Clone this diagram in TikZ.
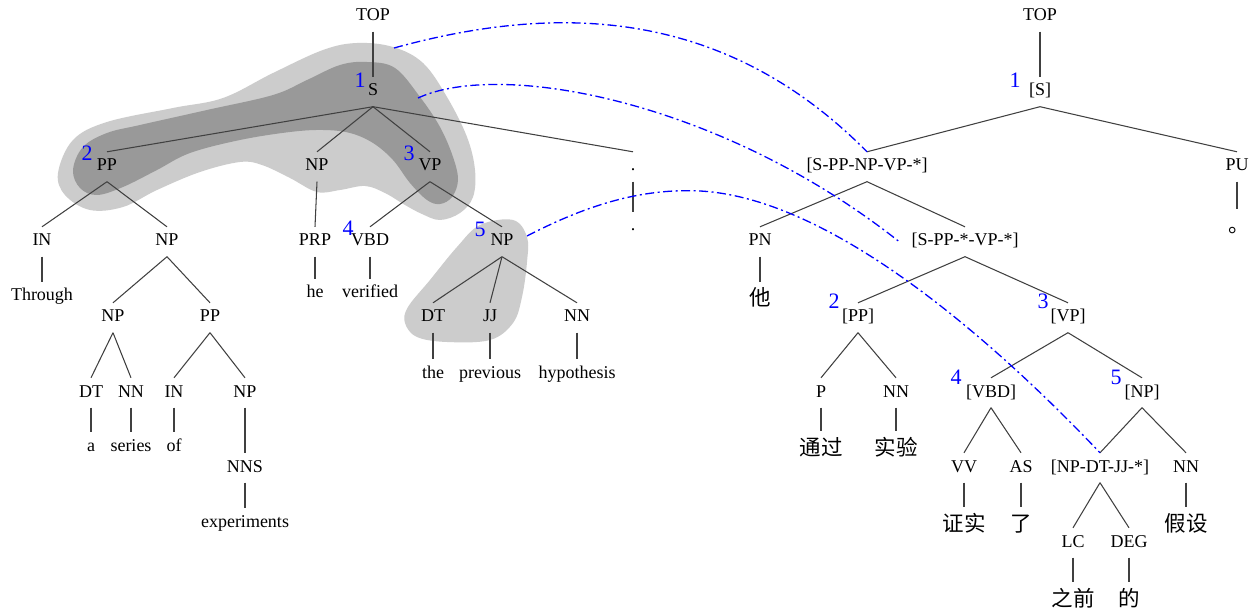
\documentclass[tikz,border=0pt]{standalone}
\usepackage{fontspec}
\setmainfont{Liberation Serif}
\newfontfamily\cjk{Noto Sans CJK SC}
\begin{document}
\begin{tikzpicture}[x=1pt,y=-1pt,
  lab/.style={font=\fontsize{18}{20}\selectfont, inner xsep=2pt, inner ysep=6.5pt, text height=12.5pt, text depth=4pt, anchor=base},
  zh/.style={lab, font=\cjk\fontsize{21.5}{23}\selectfont, text height=17pt},
  num/.style={text=blue, font=\fontsize{22}{24}\selectfont, inner sep=0pt},
  tline/.style={draw=black!75, line width=1.05pt},
  alignline/.style={draw=blue, line width=1.3pt, dash pattern=on 9pt off 3.5pt on 2pt off 3.5pt},
  lightblob/.style={fill=black!20},
  darkblob/.style={fill=black!40}]
\fill[white] (0,0) rectangle (1255,609);
\useasboundingbox (0,0) rectangle (1255,609);

% ---------- highlight blobs ----------
\fill[lightblob] plot[smooth cycle, tension=0.6] coordinates {
 (58,173) (73,140) (107,122) (173,108) (223,98) (273,73) (323,50) (357,43) (393,47)
 (423,63) (447,97) (467,137) (475,170) (473,197) (460,213) (440,220) (422,214)
 (405,205) (385,193) (365,186) (340,190) (317,192) (290,178) (262,165) (240,162)
 (200,172) (157,190) (123,207) (90,210) (65,195)};
\fill[darkblob] plot[smooth cycle, tension=0.6] coordinates {
 (73,170) (83,147) (107,133) (140,125) (207,110) (273,95) (307,80) (340,65) (367,62)
 (395,68) (420,97) (440,127) (453,157) (458,180) (452,197) (440,204) (427,200)
 (410,183) (393,160) (373,143) (350,133) (323,130) (290,132) (240,140) (190,153)
 (157,170) (123,187) (97,195) (80,188)};
\fill[lightblob] plot[smooth cycle, tension=0.6] coordinates {
 (513,220) (527,237) (527,262) (522,297) (513,323) (490,340) (447,342) (417,337)
 (405,323) (408,307) (430,280) (457,247) (480,225)};

% ---------- English tree ----------
\node[lab] (lTOP) at (373,21) {TOP};
\node[lab] (lS) at (373,96) {S};
\node[lab] (lPP) at (107,171) {PP};
\node[lab] (lNP) at (317,171) {NP};
\node[lab] (lVP) at (430,171) {VP};
\node[lab] (lPU) at (633,171) {.};
\node[lab] (lPUw) at (633,231) {.};
\node[lab] (lIN) at (42,246) {IN};
\node[lab] (lThrough) at (42,301) {Through};
\node[lab] (lNPb) at (167,246) {NP};
\node[lab] (lPRP) at (315,246) {PRP};
\node[lab] (lhe) at (315,298) {he};
\node[lab] (lVBD) at (370,246) {VBD};
\node[lab] (lverified) at (370,298) {verified};
\node[lab] (lNPc) at (502,246) {NP};
\node[lab] (lNPd) at (113,322) {NP};
\node[lab] (lPPb) at (210,322) {PP};
\node[lab] (lDT) at (91,397) {DT};
\node[lab] (la) at (91,451) {a};
\node[lab] (lNN) at (131,397) {NN};
\node[lab] (lseries) at (131,451) {series};
\node[lab] (lINb) at (174,397) {IN};
\node[lab] (lof) at (174,451) {of};
\node[lab] (lNPe) at (245,397) {NP};
\node[lab] (lNNS) at (245,472) {NNS};
\node[lab] (lexp) at (245,527) {experiments};
\node[lab] (lDTb) at (433,322) {DT};
\node[lab] (lthe) at (433,378) {the};
\node[lab] (lJJ) at (490,322) {JJ};
\node[lab] (lprev) at (490,378) {previous};
\node[lab] (lNNb) at (577,322) {NN};
\node[lab] (lhyp) at (577,378) {hypothesis};

\draw[tline] (lTOP.south) -- (lS.north);
\draw[tline] (lS.south) -- (lPP.north);
\draw[tline] (lS.south) -- (lNP.north);
\draw[tline] (lS.south) -- (lVP.north);
\draw[tline] (lS.south) -- (lPU.north);
\draw[tline] (lPU.south) -- (lPUw.north);
\draw[tline] (lPP.south) -- (lIN.north);
\draw[tline] (lPP.south) -- (lNPb.north);
\draw[tline] (lIN.south) -- (lThrough.north);
\draw[tline] (lNPb.south) -- (lNPd.north);
\draw[tline] (lNPb.south) -- (lPPb.north);
\draw[tline] (lNPd.south) -- (lDT.north);
\draw[tline] (lNPd.south) -- (lNN.north);
\draw[tline] (lDT.south) -- (la.north);
\draw[tline] (lNN.south) -- (lseries.north);
\draw[tline] (lPPb.south) -- (lINb.north);
\draw[tline] (lPPb.south) -- (lNPe.north);
\draw[tline] (lINb.south) -- (lof.north);
\draw[tline] (lNPe.south) -- (lNNS.north);
\draw[tline] (lNNS.south) -- (lexp.north);
\draw[tline] (lNP.south) -- (lPRP.north);
\draw[tline] (lPRP.south) -- (lhe.north);
\draw[tline] (lVP.south) -- (lVBD.north);
\draw[tline] (lVP.south) -- (lNPc.north);
\draw[tline] (lVBD.south) -- (lverified.north);
\draw[tline] (lNPc.south) -- (lDTb.north);
\draw[tline] (lNPc.south) -- (lJJ.north);
\draw[tline] (lNPc.south) -- (lNNb.north);
\draw[tline] (lDTb.south) -- (lthe.north);
\draw[tline] (lJJ.south) -- (lprev.north);
\draw[tline] (lNNb.south) -- (lhyp.north);

\node[num] (lb1) at (360,80) {1};
\node[num] (lb2) at (87,153) {2};
\node[num] (lb3) at (409,153) {3};
\node[num] (lb4) at (348,228) {4};
\node[num] (lb5) at (480,229) {5};

% ---------- Chinese tree ----------
\node[lab] (rTOP) at (1040,21) {TOP};
\node[lab] (rS) at (1040,96) {[S]};
\node[lab] (rSa) at (867,171) {[S-PP-NP-VP-*]};
\node[lab] (rPU) at (1237,171) {PU};
\node[zh, anchor=base west, inner xsep=0pt] (rdot) at (1228,233) {。};
\node[lab] (rPN) at (760,246) {PN};
\node[zh] (rta) at (760,306) {他};
\node[lab] (rSb) at (965,246) {[S-PP-*-VP-*]};
\node[lab] (rPP) at (858,322) {[PP]};
\node[lab] (rVP) at (1068,322) {[VP]};
\node[lab] (rP) at (821,397) {P};
\node[zh] (rtg) at (821,455) {通过};
\node[lab] (rNN) at (896,397) {NN};
\node[zh] (rsy) at (896,455) {实验};
\node[lab] (rVBD) at (991,397) {[VBD]};
\node[lab] (rNP) at (1142,397) {[NP]};
\node[lab] (rVV) at (964,472) {VV};
\node[zh] (rzs) at (964,531) {证实};
\node[lab] (rAS) at (1021,472) {AS};
\node[zh] (rle) at (1021,531) {了};
\node[lab] (rNPc) at (1100,472) {[NP-DT-JJ-*]};
\node[lab] (rNN2) at (1186,472) {NN};
\node[zh] (rjs) at (1186,531) {假设};
\node[lab] (rLC) at (1073,547) {LC};
\node[zh] (rzq) at (1073,606) {之前};
\node[lab] (rDEG) at (1129,547) {DEG};
\node[zh] (rde) at (1129,606) {的};

\draw[tline] (rTOP.south) -- (rS.north);
\draw[tline] (rS.south) -- (rSa.north);
\draw[tline] (rS.south) -- (rPU.north);
\draw[tline] (rPU.south) -- (rPU.south |- rdot.north);
\draw[tline] (rSa.south) -- (rPN.north);
\draw[tline] (rSa.south) -- (rSb.north);
\draw[tline] (rPN.south) -- (rta.north);
\draw[tline] (rSb.south) -- (rPP.north);
\draw[tline] (rSb.south) -- (rVP.north);
\draw[tline] (rPP.south) -- (rP.north);
\draw[tline] (rPP.south) -- (rNN.north);
\draw[tline] (rP.south) -- (rtg.north);
\draw[tline] (rNN.south) -- (rsy.north);
\draw[tline] (rVP.south) -- (rVBD.north);
\draw[tline] (rVP.south) -- (rNP.north);
\draw[tline] (rVBD.south) -- (rVV.north);
\draw[tline] (rVBD.south) -- (rAS.north);
\draw[tline] (rVV.south) -- (rzs.north);
\draw[tline] (rAS.south) -- (rle.north);
\draw[tline] (rNP.south) -- (rNPc.north);
\draw[tline] (rNP.south) -- (rNN2.north);
\draw[tline] (rNN2.south) -- (rjs.north);
\draw[tline] (rNPc.south) -- (rLC.north);
\draw[tline] (rNPc.south) -- (rDEG.north);
\draw[tline] (rLC.south) -- (rzq.north);
\draw[tline] (rDEG.south) -- (rde.north);

\node[num] (rb1) at (1015,80) {1};
\node[num] (rb2) at (834,301) {2};
\node[num] (rb3) at (1043,301) {3};
\node[num] (rb4) at (956,377) {4};
\node[num] (rb5) at (1116,377) {5};

% ---------- alignment links ----------
\coordinate (c1) at (394,48);
\coordinate (c2) at (418,98);
\coordinate (c3) at (527,236);
\draw[alignline] (c1) .. controls (543,7) and (717,0) .. (rSa.north);
\draw[alignline] (c2) .. controls (500,60) and (720,100) .. ([xshift=-10pt]rSb.west);
\draw[alignline] (c3) .. controls (585,206) and (640,188) .. (700,191)
                      .. controls (830,198) and (990,337) .. (rNPc.north);
\end{tikzpicture}
\end{document}
